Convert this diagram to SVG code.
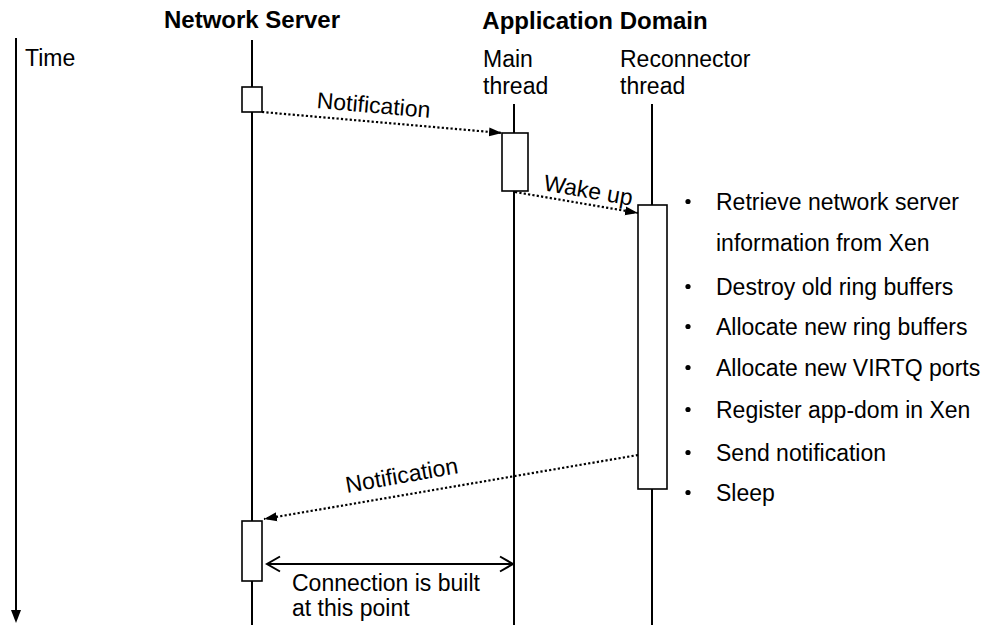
<svg xmlns="http://www.w3.org/2000/svg" width="989" height="625" viewBox="0 0 989 625">
<style>
text{font-family:"Liberation Sans",Arial,sans-serif;font-size:23px;fill:#000}
.hdr{font-weight:bold;font-size:24px;text-anchor:middle}
.life{stroke:#000;stroke-width:2;fill:none}
.box{fill:#fff;stroke:#000;stroke-width:1.6}
.msg{stroke:#000;stroke-width:2.2;stroke-dasharray:2.2 2.2;fill:none}
.solid{stroke:#000;stroke-width:2;fill:none}
.ctr{text-anchor:middle}
</style>
<defs>
<marker id="fa" markerUnits="userSpaceOnUse" markerWidth="14" markerHeight="12" refX="13" refY="6" orient="auto">
<path d="M0,1.5 L13,6 L0,10.5 Z" fill="#000"/>
</marker>
<marker id="oa" markerUnits="userSpaceOnUse" markerWidth="16" markerHeight="18" refX="14" refY="9" orient="auto-start-reverse">
<path d="M1,1.5 L14,9 L1,16.5" fill="none" stroke="#000" stroke-width="2"/>
</marker>
</defs>
<g id="time">
<line x1="16" y1="38" x2="16" y2="612" class="life"/>
<path d="M11,610 L21,610 L16,623 Z" fill="#000"/>
<text x="25" y="66">Time</text>
</g>
<g id="network-server">
<text class="hdr" x="252" y="28">Network Server</text>
<line x1="252" y1="40" x2="252" y2="625" class="life"/>
<rect class="box" x="242" y="87" width="20" height="25"/>
<rect class="box" x="242" y="521" width="20" height="60"/>
</g>
<g id="application-domain">
<text class="hdr" x="595" y="29">Application Domain</text>
</g>
<g id="main-thread">
<text x="483" y="67">Main</text>
<text x="483" y="94">thread</text>
<line x1="514" y1="104" x2="514" y2="625" class="life"/>
<rect class="box" x="502" y="133" width="26" height="58"/>
</g>
<g id="reconnector-thread">
<text x="620" y="67">Reconnector</text>
<text x="620" y="94">thread</text>
<line x1="652" y1="104" x2="652" y2="625" class="life"/>
<rect class="box" x="638" y="205" width="29" height="284"/>
</g>
<g id="steps">
<g fill="#000">
<circle cx="688" cy="201.5" r="2.6"/>
<circle cx="688" cy="286.5" r="2.6"/>
<circle cx="688" cy="326.5" r="2.6"/>
<circle cx="688" cy="367.5" r="2.6"/>
<circle cx="688" cy="409.5" r="2.6"/>
<circle cx="688" cy="452.5" r="2.6"/>
<circle cx="688" cy="492.5" r="2.6"/>
</g>
<text x="716" y="210">Retrieve network server</text>
<text x="716" y="251">information from Xen</text>
<text x="716" y="295">Destroy old ring buffers</text>
<text x="716" y="335">Allocate new ring buffers</text>
<text x="716" y="376">Allocate new VIRTQ ports</text>
<text x="716" y="418">Register app-dom in Xen</text>
<text x="716" y="461">Send notification</text>
<text x="716" y="501">Sleep</text>
</g>
<g id="connectors">
<line class="msg" x1="262" y1="112" x2="502" y2="133" marker-end="url(#fa)"/>
<text class="ctr" x="373" y="113" transform="rotate(5 373 113)">Notification</text>
<line class="msg" x1="515" y1="192" x2="638" y2="213" marker-end="url(#fa)"/>
<text class="ctr" x="587" y="198" transform="rotate(10 587 198)">Wake up</text>
<line class="msg" x1="638" y1="455" x2="264" y2="519" marker-end="url(#fa)"/>
<text class="ctr" x="403" y="483" transform="rotate(-10 403 483)">Notification</text>
<line class="solid" x1="267" y1="564" x2="513" y2="564" marker-start="url(#oa)" marker-end="url(#oa)"/>
<text x="292" y="591">Connection is built</text>
<text x="292" y="616">at this point</text>
</g>
</svg>
